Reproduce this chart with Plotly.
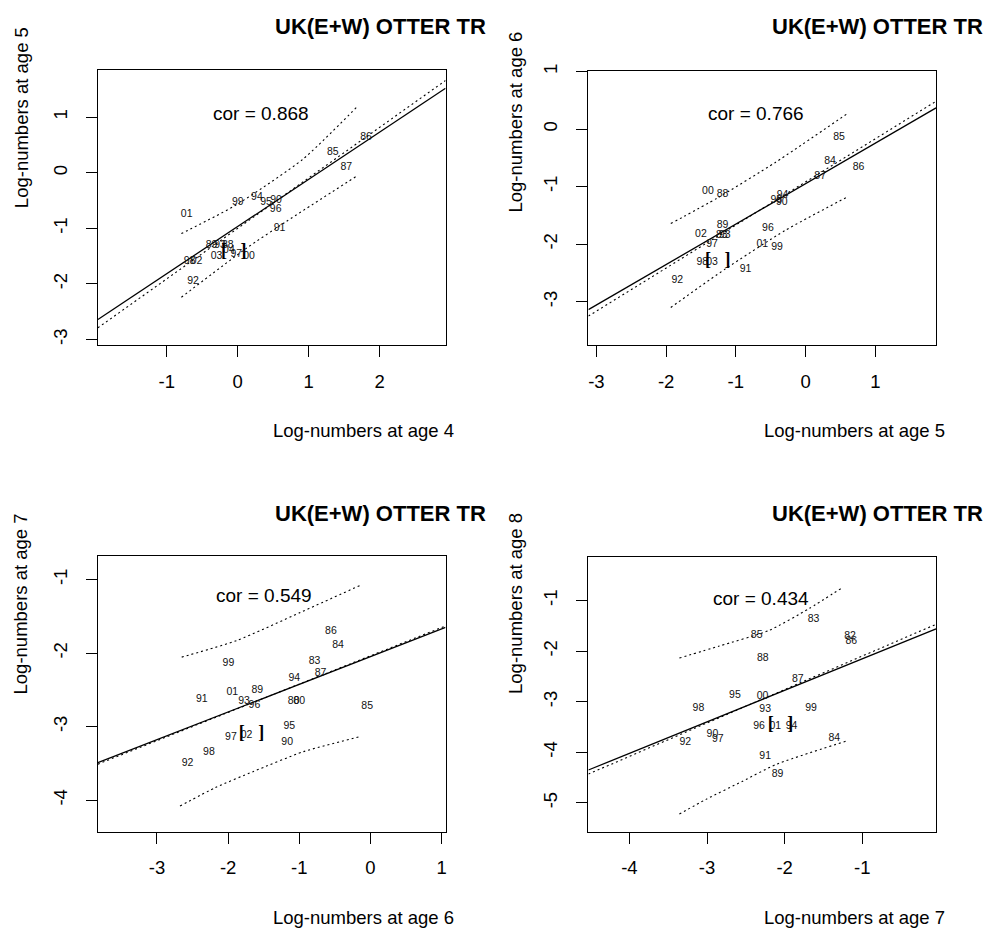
import plotly.graph_objects as go

W, H = 992, 931
FONT = "Liberation Sans, Arial, sans-serif"

# ---------------- Panel 1: age 4 vs age 5 ----------------
p1_years = ["86", "85", "87", "99", "01", "94", "95", "90", "96", "91", "89", "93", "88",
            "98", "02", "03", "97", "00", "92", "04"]
p1_x = [1.81, 1.34, 1.53, 0.00, -0.72, 0.27, 0.40, 0.54, 0.535, 0.59, -0.37, -0.25, -0.14,
        -0.68, -0.58, -0.30, -0.02, 0.16, -0.63, -0.125]
p1_y = [0.63, 0.36, 0.095, -0.54, -0.755, -0.44, -0.54, -0.50, -0.66, -1.005, -1.30, -1.30, -1.30,
        -1.60, -1.60, -1.50, -1.47, -1.51, -1.95, -1.39]
p1_bracket = (-0.056, -1.42)
p1_fit_x, p1_fit_y = [-1.972, 2.93], [-2.64, 1.52]
p1_alt_y = [-2.79, 1.66]
p1_up_x, p1_up_y = [-0.795, -0.02, 0.92, 1.69], [-1.095, -0.577, 0.245, 1.196]
p1_lo_x, p1_lo_y = [-0.795, 0.12, 0.686, 1.69], [-2.24, -1.36, -0.875, -0.05]
p1_cor = "cor = 0.868"
p1_xrange, p1_yrange = [-1.972, 2.93], [-3.107, 1.857]
p1_xticks, p1_yticks = [-1, 0, 1, 2], [-3, -2, -1, 0, 1]

# ---------------- Panel 2: age 5 vs age 6 ----------------
p2_years = ["85", "84", "86", "87", "00", "88", "94", "95", "90", "89", "02", "83", "93",
            "96", "97", "01", "99", "98", "91", "92", "03"]
p2_x = [0.48, 0.35, 0.76, 0.21, -1.40, -1.19, -0.33, -0.42, -0.34, -1.19, -1.50, -1.20, -1.16,
        -0.54, -1.34, -0.62, -0.41, -1.48, -0.86, -1.84, -1.34]
p2_y = [-0.15, -0.57, -0.67, -0.82, -1.09, -1.14, -1.16, -1.24, -1.28, -1.67, -1.83, -1.84, -1.85,
        -1.73, -2.00, -2.00, -2.06, -2.32, -2.43, -2.63, -2.31]
p2_bracket = (-1.26, -2.29)
p2_fit_x, p2_fit_y = [-3.114, 1.871], [-3.138, 0.367]
p2_alt_y = [-3.25, 0.483]
p2_up_x, p2_up_y = [-1.933, -1.267, -0.433, 0.614], [-1.643, -1.20, -0.58, 0.28]
p2_lo_x, p2_lo_y = [-1.933, -1.15, -0.29, 0.614], [-3.10, -2.43, -1.76, -1.17]
p2_cor = "cor = 0.766"
p2_xrange, p2_yrange = [-3.114, 1.871], [-3.76, 1.017]
p2_xticks, p2_yticks = [-3, -2, -1, 0, 1], [-3, -2, -1, 0, 1]

# ---------------- Panel 3: age 6 vs age 7 ----------------
p3_years = ["86", "84", "99", "83", "87", "94", "91", "01", "89", "93", "96", "88", "00",
            "85", "95", "97", "90", "98", "92", "02"]
p3_x = [-0.555, -0.455, -1.996, -0.785, -0.70, -1.07, -2.37, -1.94, -1.59, -1.775, -1.63, -1.08, -1.00,
        -0.045, -1.14, -1.96, -1.17, -2.27, -2.57, -1.74]
p3_y = [-1.71, -1.90, -2.135, -2.11, -2.28, -2.35, -2.63, -2.54, -2.51, -2.65, -2.71, -2.66, -2.66,
        -2.73, -2.99, -3.14, -3.21, -3.35, -3.50, -3.12]
p3_bracket = (-1.67, -3.10)
p3_fit_x, p3_fit_y = [-3.83, 1.056], [-3.49, -1.65]
p3_alt_y = [-3.51, -1.63]
p3_up_x, p3_up_y = [-2.652, -1.877, -0.986, -0.141], [-2.054, -1.828, -1.446, -1.077]
p3_lo_x, p3_lo_y = [-2.676, -2.18, -1.644, -0.94, -0.14], [-4.08, -3.83, -3.61, -3.34, -3.135]
p3_cor = "cor = 0.549"
p3_xrange, p3_yrange = [-3.83, 1.056], [-4.43, -0.676]
p3_xticks, p3_yticks = [-3, -2, -1, 0, 1], [-4, -3, -2, -1]

# ---------------- Panel 4: age 7 vs age 8 ----------------
p4_years = ["83", "85", "82", "86", "88", "87", "95", "00", "98", "93", "99", "96", "94",
            "90", "97", "92", "84", "91", "89", "01"]
p4_x = [-1.628, -2.36, -1.156, -1.14, -2.28, -1.83, -2.64, -2.285, -3.11, -2.25, -1.66, -2.33, -1.91,
        -2.93, -2.86, -3.28, -1.36, -2.25, -2.09, -2.12]
p4_y = [-1.38, -1.69, -1.71, -1.81, -2.14, -2.555, -2.87, -2.89, -3.13, -3.16, -3.13, -3.49, -3.49,
        -3.64, -3.74, -3.80, -3.73, -4.09, -4.44, -3.49]
p4_bracket = (-2.054, -3.445)
p4_fit_x, p4_fit_y = [-4.528, -0.049], [-4.35, -1.56]
p4_alt_y = [-4.43, -1.47]
p4_up_x, p4_up_y = [-3.356, -2.842, -2.198, -1.683, -1.255], [-2.137, -1.90, -1.59, -1.157, -0.745]
p4_lo_x, p4_lo_y = [-3.356, -3.013, -2.54, -2.11, -1.21], [-5.22, -4.93, -4.57, -4.24, -3.78]
p4_cor = "cor = 0.434"
p4_xrange, p4_yrange = [-4.528, -0.049], [-5.57, -0.137]
p4_xticks, p4_yticks = [-4, -3, -2, -1], [-5, -4, -3, -2, -1]

title_text = "UK(E+W) OTTER TR"
xlabels = ["Log-numbers at age 4", "Log-numbers at age 5", "Log-numbers at age 6", "Log-numbers at age 7"]
ylabels = ["Log-numbers at age 5", "Log-numbers at age 6", "Log-numbers at age 7", "Log-numbers at age 8"]

panels = [
    dict(years=p1_years, x=p1_x, y=p1_y, br=p1_bracket, fx=p1_fit_x, fy=p1_fit_y, ay=p1_alt_y,
         ux=p1_up_x, uy=p1_up_y, lx=p1_lo_x, ly=p1_lo_y, cor=p1_cor, xr=p1_xrange, yr=p1_yrange,
         xt=p1_xticks, yt=p1_yticks, box=(98, 446, 63, 341), corpos=(261, 107),
         title_r=488, title_y=20, ylab=(21, 111), xlab=(364, 427)),
    dict(years=p2_years, x=p2_x, y=p2_y, br=p2_bracket, fx=p2_fit_x, fy=p2_fit_y, ay=p2_alt_y,
         ux=p2_up_x, uy=p2_up_y, lx=p2_lo_x, ly=p2_lo_y, cor=p2_cor, xr=p2_xrange, yr=p2_yrange,
         xt=p2_xticks, yt=p2_yticks, box=(589, 937, 64, 341), corpos=(757, 107),
         title_r=986, title_y=20, ylab=(516, 116), xlab=(855, 427)),
    dict(years=p3_years, x=p3_x, y=p3_y, br=p3_bracket, fx=p3_fit_x, fy=p3_fit_y, ay=p3_alt_y,
         ux=p3_up_x, uy=p3_up_y, lx=p3_lo_x, ly=p3_lo_y, cor=p3_cor, xr=p3_xrange, yr=p3_yrange,
         xt=p3_xticks, yt=p3_yticks, box=(98, 446, 553, 831), corpos=(264, 593),
         title_r=488, title_y=510, ylab=(21, 601), xlab=(364, 917)),
    dict(years=p4_years, x=p4_x, y=p4_y, br=p4_bracket, fx=p4_fit_x, fy=p4_fit_y, ay=p4_alt_y,
         ux=p4_up_x, uy=p4_up_y, lx=p4_lo_x, ly=p4_lo_y, cor=p4_cor, xr=p4_xrange, yr=p4_yrange,
         xt=p4_xticks, yt=p4_yticks, box=(589, 937, 554, 831), corpos=(762, 596),
         title_r=986, title_y=510, ylab=(516, 601), xlab=(855, 917)),
]

fig = go.Figure()
annotations = []
DOT = "2px,3px"

for i, p in enumerate(panels):
    n = "" if i == 0 else str(i + 1)
    xa, ya = "x" + n, "y" + n
    fig.add_trace(go.Scatter(x=p["fx"], y=p["fy"], mode="lines", xaxis=xa, yaxis=ya,
                             line=dict(color="black", width=1.3), showlegend=False, hoverinfo="skip"))
    fig.add_trace(go.Scatter(x=p["fx"], y=p["ay"], mode="lines", xaxis=xa, yaxis=ya,
                             line=dict(color="black", width=1.1, dash=DOT), showlegend=False, hoverinfo="skip"))
    for bx, by in ((p["ux"], p["uy"]), (p["lx"], p["ly"])):
        fig.add_trace(go.Scatter(x=bx, y=by, mode="lines", xaxis=xa, yaxis=ya,
                                 line=dict(color="black", width=1.1, dash=DOT, shape="spline", smoothing=0.6),
                                 showlegend=False, hoverinfo="skip"))
    fig.add_trace(go.Scatter(x=p["x"], y=p["y"], mode="text", text=p["years"], xaxis=xa, yaxis=ya,
                             textposition="middle center",
                             textfont=dict(family=FONT, size=10.5, color="#111"),
                             showlegend=False, hoverinfo="skip"))
    fig.add_trace(go.Scatter(x=[p["br"][0]], y=[p["br"][1]], mode="text",
                             text=["<b>[\u00a0\u00a0\u00a0]</b>"], xaxis=xa, yaxis=ya,
                             textposition="middle center",
                             textfont=dict(family="Liberation Serif, Times New Roman, serif", size=18, color="black"),
                             showlegend=False, hoverinfo="skip"))

    l, r, t, b = p["box"]
    axcommon = dict(showline=True, mirror=True, linecolor="black", linewidth=1,
                    ticks="outside", ticklen=11, tickwidth=1, tickcolor="black",
                    showgrid=False, zeroline=False,
                    tickfont=dict(family=FONT, size=18.5, color="black"))
    fig.update_layout(**{
        ("xaxis" + n): dict(domain=[l / W, r / W], range=p["xr"], anchor=ya,
                            tickvals=p["xt"], ticktext=[str(v) for v in p["xt"]],
                            ticklabelstandoff=8, **axcommon),
        ("yaxis" + n): dict(domain=[1 - b / H, 1 - t / H], range=p["yr"], anchor=xa,
                            tickvals=p["yt"], ticktext=[str(v) for v in p["yt"]],
                            tickangle=-90, ticklabelstandoff=12, **axcommon),
    })

    annotations.append(dict(text="<b>" + title_text + "</b>", xref="paper", yref="paper",
                            x=p["title_r"] / W, y=1 - p["title_y"] / H, xanchor="right", yanchor="middle",
                            showarrow=False, font=dict(family=FONT, size=22, color="black")))
    annotations.append(dict(text=ylabels[i], xref="paper", yref="paper", textangle=-90,
                            x=p["ylab"][0] / W, y=1 - p["ylab"][1] / H, xanchor="center", yanchor="middle",
                            showarrow=False, font=dict(family=FONT, size=18.5, color="black")))
    annotations.append(dict(text=xlabels[i], xref="paper", yref="paper",
                            x=p["xlab"][0] / W, y=1 - p["xlab"][1] / H, xanchor="center", yanchor="middle",
                            showarrow=False, font=dict(family=FONT, size=18.5, color="black")))
    annotations.append(dict(text=p["cor"], xref="paper", yref="paper",
                            x=p["corpos"][0] / W, y=1 - p["corpos"][1] / H, xanchor="center", yanchor="middle",
                            showarrow=False, font=dict(family=FONT, size=19, color="black")))

fig.update_layout(width=W, height=H, margin=dict(l=0, r=0, t=0, b=0),
                  paper_bgcolor="white", plot_bgcolor="white",
                  annotations=annotations, showlegend=False)

fig.write_html("out.html", config={"displayModeBar": False},
               post_script="document.body.style.margin='0px';document.body.style.overflow='hidden';")
